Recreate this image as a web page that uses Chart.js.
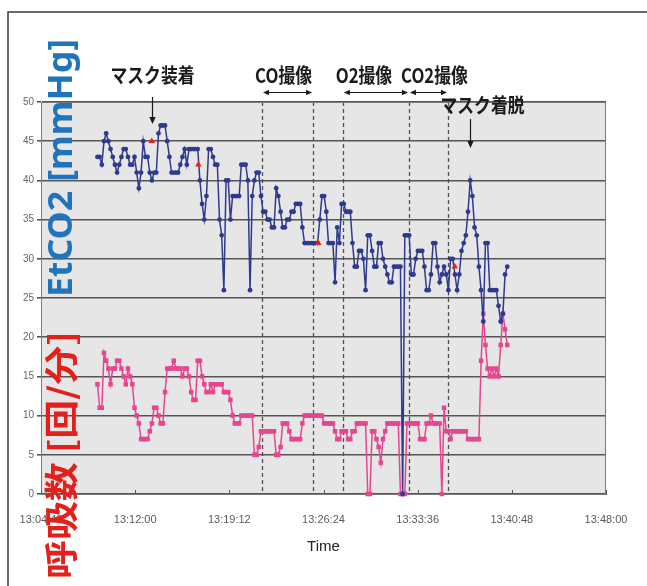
<!DOCTYPE html>
<html>
<head>
<meta charset="utf-8">
<script src="https://cdn.jsdelivr.net/npm/chart.js@4.4.0/dist/chart.umd.min.js"></script>
<style>
  html, body { margin: 0; padding: 0; background: #ffffff; }
  canvas { display: block; }
</style>
</head>
<body>
<canvas id="chart" width="647" height="586"></canvas>
<script>
// Time axis ticks (every 7 min 12 s)
const timeTicks = ['13:04:48', '13:12:00', '13:19:12', '13:26:24', '13:33:36', '13:40:48', '13:48:00'];
// Value axis range / step (shared by EtCO2 [mmHg] and respiratory rate [/min])
const valueTicks = [0, 5, 10, 15, 20, 25, 30, 35, 40, 45, 50];

// Monitor log: first sample time and sampling interval
const sampleStart = '13:09:07';
const sampleSeconds = 10;

// End-tidal CO2 [mmHg]
const etco2 = [
  43, 43, 42, 45, 46, 45, 44, 43, 42, 41,
  42, 43, 44, 44, 43, 42, 42, 43, 41, 39,
  41, 45, 43, 43, 41, 40, 41, 41, 46, 47,
  47, 47, 45, 43, 41, 41, 41, 41, 42, 43,
  44, 42, 44, 44, 44, 44, 44, 40, 37, 35,
  38, 44, 44, 43, 42, 42, 35, 33, 26, 40,
  40, 35, 38, 38, 38, 38, 42, 42, 42, 40,
  26, 38, 40, 41, 41, 38, 36, 36, 35, 35,
  34, 34, 39, 38, 36, 34, 34, 35, 35, 36,
  36, 37, 37, 37, 34, 32, 32, 32, 32, 32,
  32, 32, 35, 38, 38, 36, 32, 32, 32, 27,
  34, 32, 37, 37, 36, 36, 36, 32, 29, 29,
  31, 31, 30, 26, 33, 33, 31, 29, 29, 32,
  32, 30, 29, 28, 27, 27, 29, 29, 29, 29,
  0, 33, 33, 33, 28, 28, 30, 31, 31, 31,
  29, 26, 26, 28, 32, 32, 29, 27, 28, 29,
  28, 26, 30, 30, 28, 26, 28, 31, 32, 33,
  36, 40, 38, 34, 33, 29, 26, 22, 32, 32,
  26, 26, 26, 26, 24, 22, 23, 28, 29
];

// Respiratory rate [breaths/min]
const respRate = [
  14, 11, 11, 18, 17, 16, 14, 16, 16, 17,
  17, 16, 15, 14, 16, 15, 14, 11, 10, 9,
  7, 7, 7, 7, 8, 9, 11, 11, 10, 9,
  9, 13, 16, 16, 16, 17, 16, 16, 16, 15,
  16, 16, 15, 13, 12, 12, 17, 17, 15, 14,
  13, 13, 14, 13, 14, 14, 14, 14, 13, 13,
  13, 12, 10, 9, 9, 9, 10, 10, 10, 10,
  10, 10, 5, 5, 6, 8, 8, 8, 8, 8,
  8, 8, 5, 5, 6, 9, 9, 9, 8, 7,
  7, 7, 7, 7, 9, 10, 10, 10, 10, 10,
  10, 10, 10, 10, 9, 9, 9, 9, 9, 8,
  7, 7, 8, 8, 8, 7, 7, 8, 8, 9,
  9, 9, 9, 9, 0, 0, 8, 8, 7, 6,
  4, 7, 8, 9, 9, 9, 9, 9, 9, 0,
  0, 0, 9, 9, 9, 9, 9, 9, 7, 7,
  7, 9, 9, 10, 9, 9, 9, 9, 0, 11,
  8, 8, 7, 8, 8, 8, 8, 8, 8, 8,
  7, 7, 7, 7, 7, 7, 17, 23, 19, 16,
  15, 16, 15, 16, 15, 19, 23, 21, 19
];

// Flagged EtCO2 readings (red triangles)
const flagTimes = ['13:13:16', '13:16:50', '13:26:00', '13:36:26'];
const flagValues = [45, 42, 32, 29];

// Imaging phases
const phaseNames = ['CO撮像', 'O2撮像', 'CO2撮像'];
const phaseStarts = ['13:21:42', '13:27:53', '13:32:56'];
const phaseEnds = ['13:25:36', '13:32:56', '13:35:55'];

// Mask events
const maskNames = ['マスク装着', 'マスク着脱'];
const maskTimes = ['13:13:17', '13:37:36'];

const toSec = t => { const p = t.split(':').map(Number); return p[0] * 3600 + p[1] * 60 + p[2]; };
const fmtTime = v => {
  const h = Math.floor(v / 3600), m = Math.floor((v % 3600) / 60), s = Math.round(v % 60);
  return [h, m, s].map(n => String(n).padStart(2, '0')).join(':');
};

const t0 = toSec(sampleStart);
const etco2Points = etco2.map((v, i) => ({ x: t0 + i * sampleSeconds, y: v }));
const respPoints = respRate.map((v, i) => ({ x: t0 + i * sampleSeconds, y: v }));
const flagPoints = flagTimes.map((t, i) => ({ x: toSec(t), y: flagValues[i] }));

function arrowHead(ctx, x, y, angle, size) {
  ctx.save();
  ctx.translate(x, y);
  ctx.rotate(angle);
  ctx.beginPath();
  ctx.moveTo(0, 0);
  ctx.lineTo(-size, -size * 0.45);
  ctx.lineTo(-size, size * 0.45);
  ctx.closePath();
  ctx.fill();
  ctx.restore();
}

function fittedText(ctx, text, cx, cy, length, font, color, vertical) {
  ctx.save();
  ctx.font = font;
  ctx.fillStyle = color;
  ctx.textAlign = 'center';
  ctx.textBaseline = 'middle';
  ctx.translate(cx, cy);
  if (vertical) ctx.rotate(-Math.PI / 2);
  const w = ctx.measureText(text).width;
  ctx.scale(length / w, 1);
  ctx.fillText(text, 0, 0);
  ctx.restore();
}

function scaledText(ctx, text, cx, cy, font, sx) {
  ctx.save();
  ctx.font = font;
  ctx.fillStyle = '#1a1a1a';
  ctx.textAlign = 'center';
  ctx.textBaseline = 'middle';
  ctx.translate(cx, cy);
  ctx.scale(sx, 1);
  ctx.fillText(text, 0, 0);
  ctx.restore();
}

const decorations = {
  id: 'decorations',
  beforeDraw(chart) {
    const { ctx, chartArea: a } = chart;
    ctx.save();
    ctx.fillStyle = '#ffffff';
    ctx.fillRect(0, 0, chart.width, chart.height);
    ctx.fillStyle = '#e6e6e6';
    ctx.fillRect(a.left, a.top, a.right - a.left, a.bottom - a.top);
    ctx.restore();
  },
  beforeDatasetsDraw(chart) {
    const { ctx, chartArea: a, scales: { x } } = chart;
    ctx.save();
    // phase boundaries
    const bounds = [...new Set([...phaseStarts, ...phaseEnds])];
    ctx.strokeStyle = '#505050';
    ctx.lineWidth = 1.3;
    ctx.setLineDash([4, 3]);
    bounds.forEach(t => {
      const px = Math.round(x.getPixelForValue(toSec(t))) + 0.5;
      ctx.beginPath();
      ctx.moveTo(px, a.top);
      ctx.lineTo(px, a.bottom);
      ctx.stroke();
    });
    ctx.setLineDash([]);
    // plot frame
    ctx.strokeStyle = '#7a7a7a';
    ctx.lineWidth = 1;
    ctx.strokeRect(a.left + 0.5, a.top + 0.5, a.right - a.left - 1, a.bottom - a.top);
    // inner tick marks on the time axis
    ctx.strokeStyle = '#555555';
    timeTicks.forEach(t => {
      const px = Math.round(x.getPixelForValue(toSec(t))) + 0.5;
      ctx.beginPath();
      ctx.moveTo(px, a.bottom);
      ctx.lineTo(px, a.bottom - 4);
      ctx.stroke();
    });
    ctx.restore();
  },
  afterDraw(chart) {
    const { ctx, chartArea: a, scales: { x } } = chart;
    ctx.save();
    // outer frame
    ctx.strokeStyle = '#3a3a3a';
    ctx.lineWidth = 1.5;
    ctx.beginPath();
    ctx.moveTo(8, chart.height);
    ctx.lineTo(8, 12);
    ctx.lineTo(chart.width, 12);
    ctx.stroke();

    const annFont = 'bold 20px "Noto Sans CJK JP"';
    ctx.fillStyle = '#1a1a1a';
    ctx.strokeStyle = '#1a1a1a';

    // imaging phase labels and span arrows
    const labelShift = [-4, -12, 6];
    phaseNames.forEach((name, i) => {
      const x1 = x.getPixelForValue(toSec(phaseStarts[i]));
      const x2 = x.getPixelForValue(toSec(phaseEnds[i]));
      scaledText(ctx, name, (x1 + x2) / 2 + labelShift[i], a.top - 27, annFont, 0.84);
      const ay = a.top - 10;
      ctx.lineWidth = 1;
      ctx.beginPath();
      ctx.moveTo(x1 + 2, ay + 0.5);
      ctx.lineTo(x2 - 2, ay + 0.5);
      ctx.stroke();
      arrowHead(ctx, x1 + 1, ay + 0.5, Math.PI, 6);
      arrowHead(ctx, x2 - 1, ay + 0.5, 0, 6);
    });

    // mask on / off markers
    const maskLabelY = [a.top - 27, a.top + 3];
    const maskLabelShift = [0, 12];
    const arrowTop = [a.top - 5, a.top + 17];
    const arrowTip = [a.top + 22, a.top + 46];
    maskNames.forEach((name, i) => {
      const px = Math.round(x.getPixelForValue(toSec(maskTimes[i]))) + 0.5;
      scaledText(ctx, name, px + maskLabelShift[i], maskLabelY[i], annFont, 0.84);
      ctx.lineWidth = 1.2;
      ctx.beginPath();
      ctx.moveTo(px, arrowTop[i]);
      ctx.lineTo(px, arrowTip[i] - 4);
      ctx.stroke();
      arrowHead(ctx, px, arrowTip[i], Math.PI / 2, 7);
    });

    // axis titles
    fittedText(ctx, 'EtCO2 [mmHg]', 62, 168, 258, 'bold 34px "Noto Sans"', '#1f74bb', true);
    fittedText(ctx, '呼吸数 [回/分]', 61, 455, 248, 'bold 34px "Noto Sans CJK JP"', '#e3201b', true);
    ctx.restore();
  }
};

new Chart(document.getElementById('chart'), {
  type: 'line',
  data: {
    datasets: [
      {
        label: 'flag',
        type: 'scatter',
        data: flagPoints,
        pointStyle: 'triangle',
        pointRadius: 3.8,
        backgroundColor: '#e8211b',
        borderColor: '#e8211b',
        borderWidth: 0,
        clip: 6
      },
      {
        label: 'EtCO2',
        data: etco2Points,
        borderColor: '#2f3a8f',
        backgroundColor: '#2f3a8f',
        borderWidth: 1.5,
        pointStyle: 'circle',
        pointRadius: 2.4,
        pointBorderWidth: 0,
        tension: 0,
        clip: 6
      },
      {
        label: '呼吸数',
        data: respPoints,
        borderColor: '#e6468f',
        backgroundColor: '#e6468f',
        borderWidth: 1.5,
        pointStyle: 'rect',
        pointRadius: 3.2,
        pointBorderWidth: 0,
        tension: 0,
        clip: 6
      }
    ]
  },
  options: {
    responsive: false,
    animation: false,
    devicePixelRatio: 1,
    layout: { padding: { left: 0, right: 41, top: 102, bottom: 26 } },
    plugins: {
      legend: { display: false },
      tooltip: { enabled: false }
    },
    scales: {
      x: {
        type: 'linear',
        min: toSec(timeTicks[0]),
        max: toSec(timeTicks[timeTicks.length - 1]),
        afterBuildTicks(scale) {
          scale.ticks = timeTicks.map(t => ({ value: toSec(t) }));
        },
        ticks: {
          autoSkip: false,
          maxRotation: 0,
          padding: 11,
          color: '#5a5a5a',
          font: { family: '"Liberation Sans Narrow", "Liberation Sans", sans-serif', size: 11 },
          callback: v => fmtTime(v)
        },
        grid: { display: false },
        border: { display: true, color: '#555555', width: 1 },
        title: {
          display: true,
          text: 'Time',
          color: '#222222',
          font: { family: '"Liberation Sans Narrow", "Liberation Sans", sans-serif', size: 15 }
        },
        afterFit(scale) { scale.height = 66; }
      },
      y: {
        type: 'linear',
        min: valueTicks[0],
        max: valueTicks[valueTicks.length - 1],
        afterBuildTicks(scale) {
          scale.ticks = valueTicks.map(v => ({ value: v }));
        },
        ticks: {
          padding: 3,
          color: '#666666',
          font: { family: '"Liberation Sans Narrow", "Liberation Sans", sans-serif', size: 10 }
        },
        grid: { color: '#555555', lineWidth: 1.6, tickLength: 4 },
        border: { display: true, color: '#6a6a6a', width: 1 },
        afterFit(scale) { scale.width = 41; }
      }
    }
  },
  plugins: [decorations]
});
</script>
</body>
</html>
